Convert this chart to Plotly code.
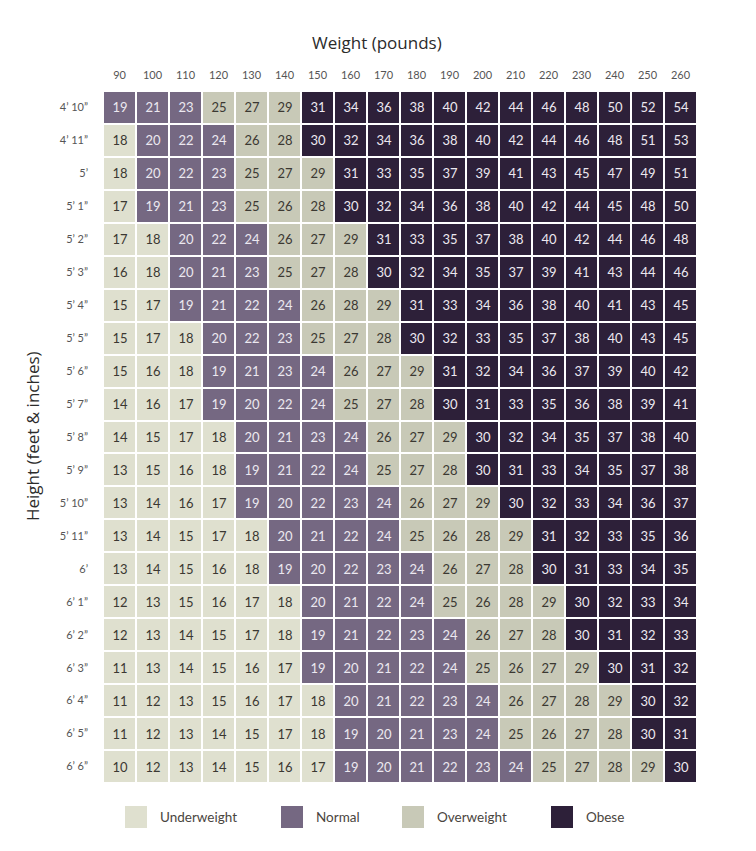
import plotly.graph_objects as go

weights = [90, 100, 110, 120, 130, 140, 150, 160, 170, 180, 190, 200, 210, 220, 230, 240, 250, 260]
heights = ["4’ 10”", "4’ 11”", "5’", "5’ 1”", "5’ 2”", "5’ 3”", "5’ 4”", "5’ 5”", "5’ 6”", "5’ 7”",
           "5’ 8”", "5’ 9”", "5’ 10”", "5’ 11”", "6’", "6’ 1”", "6’ 2”", "6’ 3”", "6’ 4”", "6’ 5”", "6’ 6”"]
bmi = [
    [19, 21, 23, 25, 27, 29, 31, 34, 36, 38, 40, 42, 44, 46, 48, 50, 52, 54],
    [18, 20, 22, 24, 26, 28, 30, 32, 34, 36, 38, 40, 42, 44, 46, 48, 51, 53],
    [18, 20, 22, 23, 25, 27, 29, 31, 33, 35, 37, 39, 41, 43, 45, 47, 49, 51],
    [17, 19, 21, 23, 25, 26, 28, 30, 32, 34, 36, 38, 40, 42, 44, 45, 48, 50],
    [17, 18, 20, 22, 24, 26, 27, 29, 31, 33, 35, 37, 38, 40, 42, 44, 46, 48],
    [16, 18, 20, 21, 23, 25, 27, 28, 30, 32, 34, 35, 37, 39, 41, 43, 44, 46],
    [15, 17, 19, 21, 22, 24, 26, 28, 29, 31, 33, 34, 36, 38, 40, 41, 43, 45],
    [15, 17, 18, 20, 22, 23, 25, 27, 28, 30, 32, 33, 35, 37, 38, 40, 43, 45],
    [15, 16, 18, 19, 21, 23, 24, 26, 27, 29, 31, 32, 34, 36, 37, 39, 40, 42],
    [14, 16, 17, 19, 20, 22, 24, 25, 27, 28, 30, 31, 33, 35, 36, 38, 39, 41],
    [14, 15, 17, 18, 20, 21, 23, 24, 26, 27, 29, 30, 32, 34, 35, 37, 38, 40],
    [13, 15, 16, 18, 19, 21, 22, 24, 25, 27, 28, 30, 31, 33, 34, 35, 37, 38],
    [13, 14, 16, 17, 19, 20, 22, 23, 24, 26, 27, 29, 30, 32, 33, 34, 36, 37],
    [13, 14, 15, 17, 18, 20, 21, 22, 24, 25, 26, 28, 29, 31, 32, 33, 35, 36],
    [13, 14, 15, 16, 18, 19, 20, 22, 23, 24, 26, 27, 28, 30, 31, 33, 34, 35],
    [12, 13, 15, 16, 17, 18, 20, 21, 22, 24, 25, 26, 28, 29, 30, 32, 33, 34],
    [12, 13, 14, 15, 17, 18, 19, 21, 22, 23, 24, 26, 27, 28, 30, 31, 32, 33],
    [11, 13, 14, 15, 16, 17, 19, 20, 21, 22, 24, 25, 26, 27, 29, 30, 31, 32],
    [11, 12, 13, 15, 16, 17, 18, 20, 21, 22, 23, 24, 26, 27, 28, 29, 30, 32],
    [11, 12, 13, 14, 15, 17, 18, 19, 20, 21, 23, 24, 25, 26, 27, 28, 30, 31],
    [10, 12, 13, 14, 15, 16, 17, 19, 20, 21, 22, 23, 24, 25, 27, 28, 29, 30],
]
categories = ["Underweight", "Normal", "Overweight", "Obese"]
category_min = [0, 19, 25, 30]   # lowest table value in each category
colors = ["#dfe0cf", "#756882", "#c8c9b7", "#2d2039"]
dark_categories = [1, 3]


def cat_of(v):
    c = 0
    for i, m in enumerate(category_min):
        if v >= m:
            c = i
    return c


cat = [[cat_of(v) for v in row] for row in bmi]

cs = [[0, colors[0]], [1/6, colors[0]], [1/6, colors[1]], [0.5, colors[1]],
      [0.5, colors[2]], [5/6, colors[2]], [5/6, colors[3]], [1, colors[3]]]

NUMFONT = "Lato, sans-serif"

fig = go.Figure()
for dark, tcol in [(False, "#3b3832"), (True, "#ece8f0")]:
    z = [[c if ((c in dark_categories) == dark) else None for c in row] for row in cat]
    t = [[str(v) if ((c in dark_categories) == dark) else "" for v, c in zip(rv, rc)]
         for rv, rc in zip(bmi, cat)]
    fig.add_trace(go.Heatmap(
        x=[str(w) for w in weights], y=heights, z=z, text=t,
        texttemplate="%{text}", textfont=dict(family=NUMFONT, size=13, color=tcol),
        colorscale=cs, zmin=0, zmax=3, showscale=False, xgap=2, ygap=2,
        hoverinfo="skip"))

OFF = 8  # page body margin
W, H = 756 - OFF, 851 - OFF
L, R, T, B = 95, 59, 83, 68
pw, ph = W - L - R, H - T - B


def px(x):
    return (x - OFF - L) / pw


def py(y):
    return (H - B - (y - OFF)) / ph


shapes, annos = [], []
sq_x = [125, 281, 402, 551]
tx_x = [158, 314, 435, 584]
for i, name in enumerate(categories):
    shapes.append(dict(type="rect", xref="paper", yref="paper",
                       x0=px(sq_x[i]), x1=px(sq_x[i] + 22), y0=py(828), y1=py(806),
                       fillcolor=colors[i], line=dict(width=0)))
    annos.append(dict(xref="paper", yref="paper", x=px(tx_x[i]), y=py(817),
                      xanchor="left", yanchor="middle", showarrow=False, text=name,
                      font=dict(family="Lato", size=13.5, color="#4a4540")))

annos.append(dict(xref="paper", yref="paper", x=px(377), y=py(42), showarrow=False,
                  text="Weight (pounds)", xanchor="center", yanchor="middle",
                  font=dict(family="Open Sans", size=17, color="#2b2b2b")))
annos.append(dict(xref="paper", yref="paper", x=px(32), y=py(436), showarrow=False,
                  text="Height (feet & inches)", textangle=-90, xanchor="center", yanchor="middle",
                  font=dict(family="Open Sans", size=17, color="#2b2b2b")))

fig.update_layout(
    width=W, height=H, margin=dict(l=L, r=R, t=T, b=B),
    paper_bgcolor="white", plot_bgcolor="white",
    shapes=shapes, annotations=annos, showlegend=False,
    xaxis=dict(side="top", showgrid=False, zeroline=False, showline=False, ticks="",
               tickfont=dict(family=NUMFONT, size=11, color="#555"), ticklabelstandoff=9,
               type="category", fixedrange=True),
    yaxis=dict(autorange="reversed", showgrid=False, zeroline=False, showline=False, ticks="",
               tickfont=dict(family=NUMFONT, size=11, color="#555"), ticklabelstandoff=14,
               type="category", fixedrange=True),
)
fig.write_html("out.html")
